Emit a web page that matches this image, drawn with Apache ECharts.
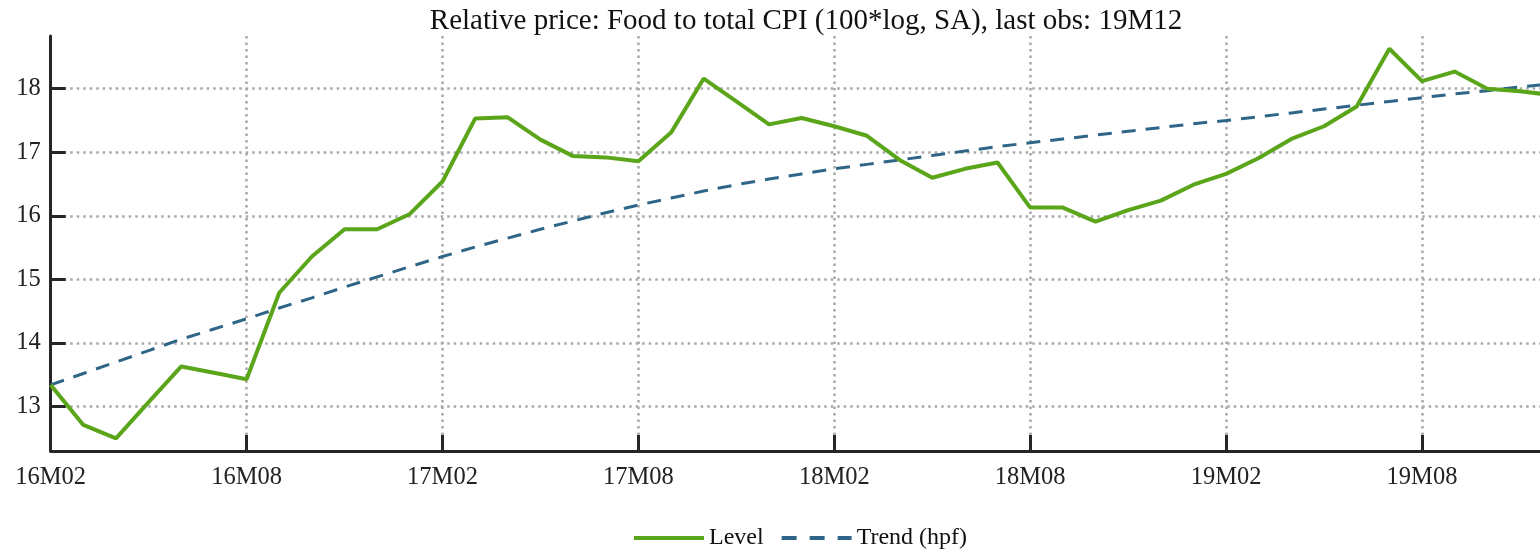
<!DOCTYPE html>
<html>
<head>
<meta charset="utf-8">
<script src="https://cdn.jsdelivr.net/npm/echarts@6/dist/echarts.min.js"></script>
<style>
html,body{margin:0;padding:0;background:#fff;}
#c{width:1540px;height:552px;}
</style>
</head>
<body>
<div id="c"></div>
<script>
const months = ['16M02','16M03','16M04','16M05','16M06','16M07','16M08','16M09','16M10','16M11','16M12',
  '17M01','17M02','17M03','17M04','17M05','17M06','17M07','17M08','17M09','17M10','17M11','17M12',
  '18M01','18M02','18M03','18M04','18M05','18M06','18M07','18M08','18M09','18M10','18M11','18M12',
  '19M01','19M02','19M03','19M04','19M05','19M06','19M07','19M08','19M09','19M10','19M11','19M12'];
const levelValues = [13.34,12.71,12.50,13.07,13.63,13.53,13.43,14.79,15.36,15.79,15.79,
  16.03,16.54,17.53,17.55,17.20,16.94,16.92,16.86,17.31,18.16,17.80,17.44,
  17.54,17.41,17.26,16.88,16.60,16.74,16.84,16.13,16.13,15.91,16.09,16.24,
  16.49,16.66,16.91,17.21,17.41,17.72,18.63,18.12,18.27,18.00,17.96,17.90];
const trendValues = [13.34,13.52,13.70,13.88,14.06,14.22,14.38,14.55,14.71,14.88,15.04,
  15.20,15.36,15.51,15.65,15.79,15.92,16.05,16.17,16.28,16.39,16.49,16.58,
  16.66,16.74,16.81,16.88,16.95,17.02,17.09,17.15,17.21,17.27,17.33,17.39,
  17.45,17.50,17.56,17.62,17.68,17.74,17.80,17.86,17.92,17.97,18.03,18.08];
const yTicks = [13,14,15,16,17,18];
const titleText = 'Relative price: Food to total CPI (100*log, SA), last obs: 19M12';

const FONT = 'Liberation Serif';
const AXIS = '#262626';
const GRIDC = '#a8a8a8';
const GREEN = '#5aa51a';
const BLUE = '#2f6687';

const chart = echarts.init(document.getElementById('c'), null, {renderer:'canvas'});
chart.setOption({
  animation: false,
  backgroundColor: '#fff',
  title: {
    text: titleText,
    left: 801, top: 2, padding: [5, 5, 5, 5], textAlign: 'center',
    textStyle: {fontFamily: FONT, fontSize: 29, fontWeight: 'normal', color: '#111'}
  },
  legend: {
    left: 627, top: 521,
    itemWidth: 70, itemHeight: 24, itemGap: 16,
    itemStyle: {opacity: 0},
    textStyle: {fontFamily: FONT, fontSize: 24, color: '#111'},
    data: [
      {name: 'Level', lineStyle: {color: GREEN, width: 4}},
      {name: 'Trend (hpf)', lineStyle: {color: BLUE, width: 4, type: [15, 13]}}
    ]
  },
  grid: {left: 50.7, top: 36, width: 1501.9, height: 415, containLabel: false, outerBoundsMode: 'none'},
  xAxis: {
    type: 'category', data: months, boundaryGap: false,
    axisLine: {lineStyle: {color: AXIS, width: 3}},
    axisTick: {inside: true, length: 16, interval: 5, lineStyle: {color: AXIS, width: 3}},
    axisLabel: {interval: 5, margin: 14, fontFamily: FONT, fontSize: 24.5, color: '#222'},
    splitLine: {show: true, interval: 5, lineStyle: {color: GRIDC, width: 2.5, type: [2.5, 4]}}
  },
  yAxis: {
    type: 'value', min: 12.30, max: 18.83,
    axisLine: {show: true, lineStyle: {color: AXIS, width: 3}},
    axisTick: {show: true, inside: true, length: 15, customValues: yTicks, lineStyle: {color: AXIS, width: 3}},
    axisLabel: {customValues: yTicks, margin: 10, fontFamily: FONT, fontSize: 24.5, color: '#222'},
    splitLine: {show: true, lineStyle: {color: GRIDC, width: 2.5, type: [2.5, 4]}}
  },
  series: [
    {name: 'Level', type: 'line', data: levelValues, symbol: 'none',
     lineStyle: {color: GREEN, width: 4}, itemStyle: {color: GREEN}, z: 3},
    {name: 'Trend (hpf)', type: 'line', data: trendValues, symbol: 'none',
     lineStyle: {color: BLUE, width: 3, type: [14, 10]}, itemStyle: {color: BLUE}, z: 2}
  ]
});
</script>
</body>
</html>
